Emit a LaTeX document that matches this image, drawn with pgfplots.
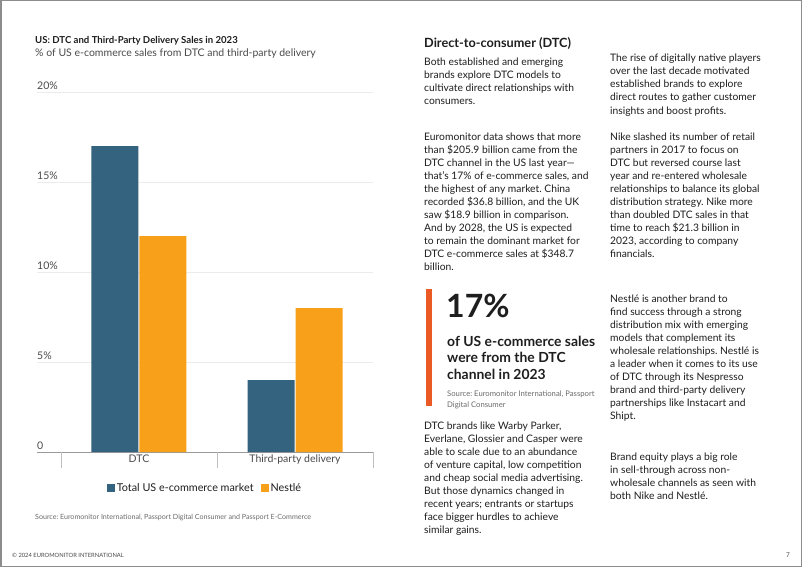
\documentclass[border=0pt]{standalone}
\usepackage{pgfplots}
\pgfplotsset{compat=1.18}
\usepackage{fontspec}
\setmainfont{Lato}
\frenchspacing
\definecolor{bluec}{HTML}{33637F}
\definecolor{orangec}{HTML}{F9A01B}
\definecolor{redc}{HTML}{EB5A24}
\definecolor{txt}{HTML}{1E1E1E}
\definecolor{gtxt}{HTML}{4A4A4A}
\definecolor{stxt}{HTML}{6A6A6A}
\definecolor{gridc}{HTML}{EBEBEB}
\newcommand{\body}{\fontsize{10.3}{12}\selectfont}
\newcommand{\para}[4]{%
  \foreach \txtline [count=\i from 0] in {#4} {%
    \node[anchor=base west, inner sep=0pt, font=\body, text=txt] at (#1,{#2+\i*#3}) {\txtline};}}
\begin{document}
\frenchspacing
\begin{tikzpicture}[x=1pt,y=-1pt]
\fill[white] (0,0) rectangle (802,567);
\path[use as bounding box] (0,0) rectangle (802,567);
\draw[draw=black!45, line width=1.5pt] (0.75,0.75) rectangle (801.25,566.25);

% chart title
\node[anchor=base west, inner sep=0pt, font=\fontsize{9.6}{12}\selectfont\bfseries, text=txt] at (35,44) {US: DTC and Third-Party Delivery Sales in 2023};
\node[anchor=base west, inner sep=0pt, font=\fontsize{10.5}{12}\selectfont, text=gtxt] at (35,57) {\% of US e-commerce sales from DTC and third-party delivery};

\begin{axis}[
  at={(37pt,-452pt)}, anchor=south west,
  scale only axis, width=336pt, height=360pt,
  xmin=-0.6538, xmax=1.5, ymin=0, ymax=20,
  ybar=1pt, bar width=47pt,
  xtick={0,1}, xticklabels={DTC, Third-party delivery},
  ytick={0,5,10,15,20}, yticklabels={0,5\%,10\%,15\%,20\%},
  ymajorgrids, grid style={draw=gridc, line width=0.8pt},
  axis x line*=bottom, axis y line*=left,
  y axis line style={draw=none},
  x axis line style={draw=black!40, line width=0.8pt, -},
  major tick length=0pt,
  yticklabel style={anchor=south west, inner sep=0pt, yshift=2.5pt, font=\fontsize{10.5}{12}\selectfont, text=gtxt},
  xticklabel style={font=\fontsize{10.5}{12}\selectfont, text=gtxt, yshift=1pt},
  extra x ticks={-0.5,0.5,1.5}, extra x tick labels={},
  extra x tick style={major tick length=16pt, tick align=outside, tick style={draw=black!25, line width=0.8pt}, grid=none},
  legend style={at={(0.5,-0.1)}, anchor=center, draw=none, fill=none, legend columns=2,
    font=\fontsize{10.8}{12}\selectfont, text=txt,
    /tikz/every even column/.append style={column sep=5pt}},
  legend image code/.code={\fill[#1] (0pt,-4pt) rectangle (8pt,4pt);},
  clip=false,
]
\addplot[fill=bluec, draw=none] coordinates {(0,17) (1,4)};
\addplot[fill=orangec, draw=none] coordinates {(0,12) (1,8)};
\legend{Total US e-commerce market, Nestlé}
\end{axis}

\node[anchor=base west, inner sep=0pt, font=\fontsize{7.1}{8}\selectfont, text=stxt] at (35,519) {Source: Euromonitor International, Passport Digital Consumer and Passport E-Commerce};

% footer
\node[anchor=base west, inner sep=0pt, font=\fontsize{5.8}{7}\selectfont, text=gtxt] at (12,557) {© 2024 EUROMONITOR INTERNATIONAL};
\node[anchor=base east, inner sep=0pt, font=\fontsize{6.5}{8}\selectfont, text=gtxt] at (790,557) {7};

% column 1
\node[anchor=base west, inner sep=0pt, font=\fontsize{12.7}{14}\selectfont\bfseries, text=txt] at (424,48) {Direct-to-consumer (DTC)};
\para{424}{66}{13}{{Both established and emerging},{brands explore DTC models to},{cultivate direct relationships with},{consumers.}}
\para{424}{140}{13}{{Euromonitor data shows that more},{than \$205.9 billion came from the},{DTC channel in the US last year—},{that’s 17\% of e-commerce sales, and},{the highest of any market. China},{recorded \$36.8 billion, and the UK},{saw \$18.9 billion in comparison.},{And by 2028, the US is expected},{to remain the dominant market for},{DTC e-commerce sales at \$348.7},{billion.}}

% callout
\fill[redc] (426,289) rectangle (432,406);
\node[anchor=base west, inner sep=0pt, font=\fontsize{32}{38}\selectfont\bfseries, text=txt] at (446,317) {17\%};
\foreach \txtline [count=\i from 0] in {{of US e-commerce sales},{were from the DTC},{channel in 2023}} {
  \node[anchor=base west, inner sep=0pt, font=\fontsize{13.9}{16}\selectfont\bfseries, text=txt] at (447,{346+\i*16.5}) {\txtline};}
\node[anchor=base west, inner sep=0pt, font=\fontsize{7.7}{9}\selectfont, text=stxt] at (447,396) {Source: Euromonitor International, Passport};
\node[anchor=base west, inner sep=0pt, font=\fontsize{7.7}{9}\selectfont, text=stxt] at (447,407) {Digital Consumer};

\para{424}{429}{13}{{DTC brands like Warby Parker,},{Everlane, Glossier and Casper were},{able to scale due to an abundance},{of venture capital, low competition},{and cheap social media advertising.},{But those dynamics changed in},{recent years; entrants or startups},{face bigger hurdles to achieve},{similar gains.}}

% column 2
\para{610}{62}{13}{{The rise of digitally native players},{over the last decade motivated},{established brands to explore},{direct routes to gather customer},{insights and boost profits.}}
\para{610}{140}{13}{{Nike slashed its number of retail},{partners in 2017 to focus on},{DTC but reversed course last},{year and re-entered wholesale},{relationships to balance its global},{distribution strategy. Nike more},{than doubled DTC sales in that},{time to reach \$21.3 billion in},{2023, according to company},{financials.}}
\para{610}{302}{13}{{Nestlé is another brand to},{find success through a strong},{distribution mix with emerging},{models that complement its},{wholesale relationships. Nestlé is},{a leader when it comes to its use},{of DTC through its Nespresso},{brand and third-party delivery},{partnerships like Instacart and},{Shipt.}}
\para{610}{460}{13}{{Brand equity plays a big role},{in sell-through across non-},{wholesale channels as seen with},{both Nike and Nestlé.}}
\end{tikzpicture}
\end{document}
